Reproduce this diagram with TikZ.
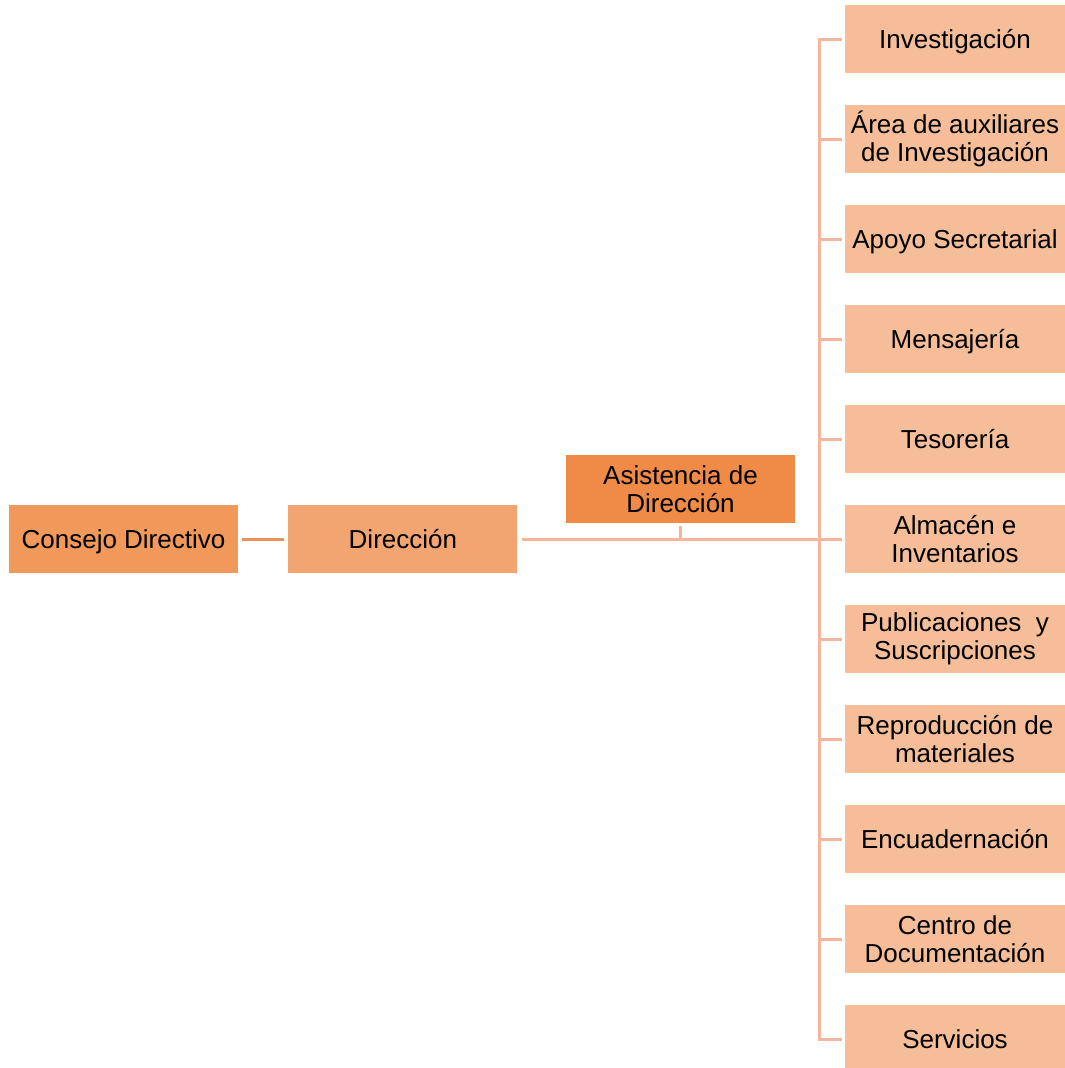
\documentclass[tikz,border=0pt]{standalone}
\usepackage{fontspec}
\setmainfont{Liberation Sans}
\usetikzlibrary{positioning}

\definecolor{consejofill}{HTML}{F0995B}
\definecolor{direccionfill}{HTML}{F2A570}
\definecolor{asistfill}{HTML}{EF8A47}
\definecolor{unitfill}{HTML}{F6BE98}
\definecolor{linkcol}{HTML}{F5B59D}
\definecolor{toplink}{HTML}{EE905C}

\begin{document}
\begin{tikzpicture}[x=1pt, y=-1pt,
    box/.style={minimum width=229pt, minimum height=68pt, inner sep=0pt, align=center,
                font=\fontsize{26}{27.5}\selectfont},
    oneline/.style={text height=18.6pt, text depth=0pt},
    twoline/.style={},
    unit/.style={box, fill=unitfill, minimum width=220pt},
    link/.style={draw=linkcol, line width=3pt}]
    % Page size
    \useasboundingbox (0,0) rectangle (1065,1068);

    % Main chain
    \node[box, oneline, fill=consejofill] (consejo) at (123.5,539) {Consejo Directivo};
    \node[box, oneline, fill=direccionfill, right=50pt of consejo] (direccion) {Dirección};
    \node[box, fill=asistfill] (asistencia) at (680.5,489) {Asistencia de\\Dirección};

    % Units on the right
    \foreach \lbl/\kind [count=\i] in {Investigación/oneline,
        {Área de auxiliares\\de Investigación}/twoline,
        Apoyo Secretarial/oneline, Mensajería/oneline, Tesorería/oneline,
        {Almacén e\\Inventarios}/twoline,
        {Publicaciones\ \ y\\Suscripciones}/twoline,
        {Reproducción de\\materiales}/twoline,
        Encuadernación/oneline, {Centro de\\Documentación}/twoline, Servicios/oneline}
        \node[unit, \kind] (u\i) at (955,{39+100*(\i-1)}) {\lbl};

    % Connectors
    \draw[link, draw=toplink, shorten <=4pt, shorten >=4pt] (consejo) -- (direccion);
    \draw[link, shorten <=4pt, shorten >=3pt] (direccion.east) -- (direccion.east -| u6.west);
    \draw[link, line width=2.4pt, shorten <=3pt] (asistencia.south) -- (asistencia.south |- direccion.east);
    \draw[link, shorten <=3pt, shorten >=3pt] (u1.west) -- ++(-25,0) |- (u11.west);
    \foreach \i in {2,...,10} \draw[link, shorten <=3pt] (u\i.west) -- ++(-25,0);
\end{tikzpicture}
\end{document}
